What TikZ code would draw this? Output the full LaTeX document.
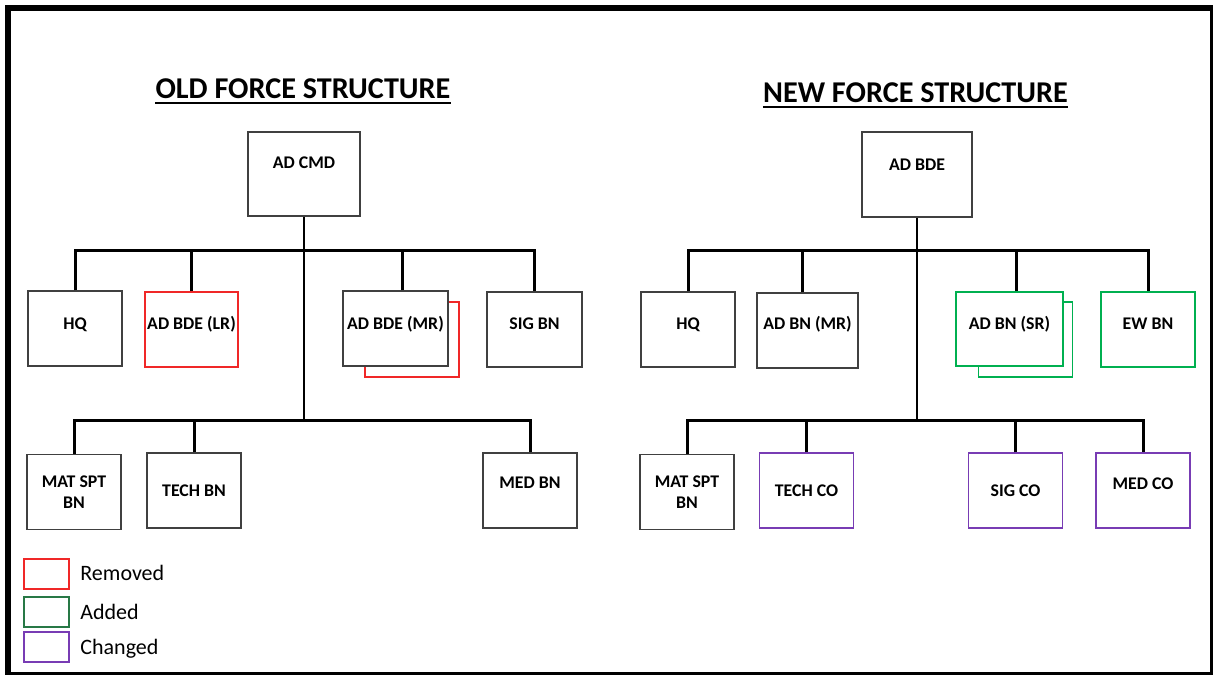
\documentclass[tikz,border=0pt]{standalone}
\usepackage{fontspec}
\setmainfont{Carlito}
\usetikzlibrary{calc}
\definecolor{gonered}{RGB}{240,40,40}
\definecolor{newgreen}{RGB}{0,176,80}
\definecolor{keygreen}{RGB}{40,120,70}
\definecolor{chgpurple}{RGB}{120,60,180}
\tikzset{
	box/.style={draw=black!75, line width=0.75pt, fill=white, minimum width=47pt, minimum height=37.5pt, inner sep=1pt, align=center, font=\bfseries\fontsize{8.9}{10.5}\selectfont},
	lift/.style={text height=5.7pt, text depth=#1},
	removed/.style={draw=gonered},
	added/.style={draw=newgreen},
	changed/.style={draw=chgpurple},
	link/.style={line width=1.5pt},
	trunk/.style={line width=1pt},
	heading/.style={inner sep=0pt, font=\bfseries\fontsize{15.1}{18}\selectfont},
	keybox/.style={line width=0.7pt, minimum width=22.5pt, minimum height=15pt, inner sep=0pt},
	keytext/.style={anchor=base west, inner sep=0pt, font=\fontsize{11}{13}\selectfont}
}

\begin{document}
\begin{tikzpicture}[x=0.5pt, y=-0.5pt]
			%%%%% START %%%%%
			\useasboundingbox (0, 0) rectangle (1215, 676);
			\draw[line width=1.5pt] (8, 673) -- (1211.5, 673) -- (1211.5, 7.5);
			\draw[line width=3pt] (8, 674.5) -- (8, 7.5) -- (1213, 7.5);
			
			%%%%% OLD %%%%%
			\node[heading] (oldT) at (303, 88.5) {OLD FORCE STRUCTURE};
			\draw[line width=1pt] ([yshift=-2pt]oldT.south west) -- ([yshift=-2pt]oldT.south east);
			
			\node[box, minimum width=56pt, minimum height=42pt, lift=11pt] (cmd) at (304, 174) {AD CMD};
			\coordinate (obar) at (304, 250);
			\coordinate (olbar) at (304, 420);
			
			\node[box, lift=4.5pt] (ohq) at (75, 328.5) {HQ};
			\node[box, removed, minimum width=46.5pt, lift=5.5pt] (olr) at (191.5, 329.5) {AD BDE (LR)};
			\node[box, removed] (omrs) at (412, 339.5) {};
			\node[box, minimum width=52.5pt, lift=4.5pt] (omr) at (395.5, 328.5) {AD BDE (MR)};
			\node[box, minimum width=47.5pt, lift=5.5pt] (osig) at (534.5, 329.5) {SIG BN};
			
			\node[box] (omat) at (74, 492) {MAT SPT\\BN};
			\node[box] (otech) at (194, 490.5) {TECH BN};
			\node[box, lift=7.5pt] (omed) at (530, 490.5) {MED BN};
			
			\coordinate (omrtop) at ([xshift=3.5pt]omr.north);
			\draw[trunk] (cmd.south) -- (cmd.south |- olbar);
			\draw[link] (ohq.north) |- (osig.north |- obar) -- (osig.north);
			\draw[link] (olr.north) -- (olr.north |- obar);
			\draw[link] (omrtop) -- (omrtop |- obar);
			\draw[link] (omat.north) |- (omed.north |- olbar) -- (omed.north);
			\draw[link] (otech.north) -- (otech.north |- olbar);
			
			%%%%% NEW %%%%%
			\node[heading] (newT) at (915.5, 93) {NEW FORCE STRUCTURE};
			\draw[line width=1pt] ([yshift=-2pt]newT.south west) -- ([yshift=-2pt]newT.south east);
			
			\node[box, minimum width=55pt, minimum height=42.5pt, lift=9.5pt] (bde) at (917, 174.5) {AD BDE};
			\coordinate (nbar) at (917, 250);
			\coordinate (nlbar) at (917, 420);
			
			\node[box, lift=5.5pt] (nhq) at (688, 329.5) {HQ};
			\node[box, minimum width=50.5pt, lift=6.5pt] (nmr) at (807.5, 330.5) {AD BN (MR)};
			\node[box, added] (nsrs) at (1025.5, 339.5) {};
			\node[box, added, minimum width=53.5pt, minimum height=37pt, lift=5pt] (nsr) at (1009.5, 329) {AD BN (SR)};
			\node[box, added, lift=5.5pt] (new) at (1148, 329.5) {EW BN};
			
			\node[box] (nmat) at (687, 492) {MAT SPT\\BN};
			\node[box, changed] (ntech) at (806.5, 490.5) {TECH CO};
			\node[box, changed] (nsig) at (1015.5, 490.5) {SIG CO};
			\node[box, changed, lift=6.5pt] (nmed) at (1143, 490.5) {MED CO};
			
			\coordinate (nmrtop) at ([xshift=-2.5pt]nmr.north);
			\coordinate (nsrtop) at ([xshift=3.5pt]nsr.north);
			\draw[trunk] (bde.south) -- (bde.south |- nlbar);
			\draw[link] (nhq.north) |- (new.north |- nbar) -- (new.north);
			\draw[link] (nmrtop) -- (nmrtop |- nbar);
			\draw[link] (nsrtop) -- (nsrtop |- nbar);
			\draw[link] (nmat.north) |- (nmed.north |- nlbar) -- (nmed.north);
			\draw[link] (ntech.north) -- (ntech.north |- nlbar);
			\draw[link] (nsig.north) -- (nsig.north |- nlbar);
			
			%%%%% KEY %%%%%
			\node[keybox, draw=gonered] (krem) at (46.5, 574) {};
			\node[keybox, draw=keygreen] (kadd) at (46.5, 612) {};
			\node[keybox, draw=chgpurple] (kchg) at (46.5, 647) {};
			\node[keytext] (kremT) at (80, 580) {Removed};
			\node[keytext] (kaddT) at (80, 619) {Added};
			\node[keytext] (kchgT) at (80, 654) {Changed};
			%%%%% END %%%%%
\end{tikzpicture}
\end{document}
